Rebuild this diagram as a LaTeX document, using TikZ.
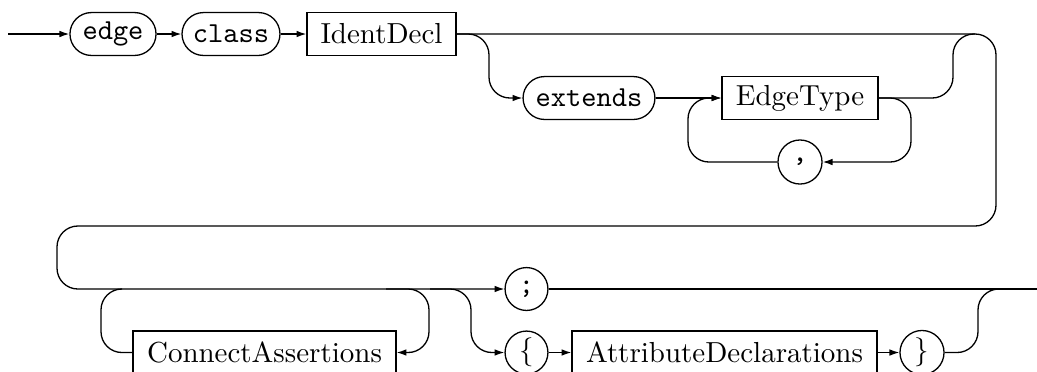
\documentclass[tikz,border=0pt]{standalone}
\usetikzlibrary{arrows.meta}
\begin{document}
\begin{tikzpicture}[x=0.345pt,y=-0.345pt,
  line width=0.45pt,
  >={Latex[length=3.4pt,width=2.3pt]},
  rc/.style={rounded corners=7.2pt},
  term/.style={draw, rectangle, rounded corners=7.4pt, minimum height=14.8pt, inner sep=0pt, font=\ttfamily},
  nterm/.style={draw, rectangle, minimum height=14.8pt, inner sep=0pt},
  tchar/.style={draw, circle, minimum size=14.8pt, inner sep=0pt},
]
\useasboundingbox (0,0) rectangle (1037,371);

% nodes
\node[term,  minimum width=29.7pt] (edge)    at (113,34)    {edge};
\node[term,  minimum width=33.8pt] (class)   at (231,34)    {class};
\node[nterm, minimum width=51.4pt] (ident)   at (381.5,34)  {IdentDecl};
\node[term,  minimum width=45.5pt] (extends) at (589,98)    {extends};
\node[nterm, minimum width=53.8pt] (etype)   at (800,98)    {EdgeType};
\node[tchar, minimum size=15.2pt, font=\ttfamily]  (comma)   at (800,162)   {,};
\node[nterm, minimum width=90.7pt] (conn)    at (264.5,352.5) {ConnectAssertions};
\node[tchar, font=\ttfamily] (semi)   at (526.5,289)   {;};
\node[tchar] (lbrace) at (526.5,352.5) {$\{$};
\node[nterm, minimum width=105.2pt] (attr)   at (724.5,352.5) {AttributeDeclarations};
\node[tchar, minimum size=15.2pt]  (rbrace)  at (922,352.5) {$\}$};

\coordinate (start) at (8,34);
\coordinate (finish) at (1045,289);

% first row
\draw[->] (start) -- (edge.west);
\draw[->] (edge.east) -- (class.west);
\draw[->] (class.east) -- (ident.west);
\draw[rc,->] (ident.east) -- (489,34) -- (489,98) -- (extends.west);
\draw[->] (extends.east) -- (etype.west);
\draw[rc,->] (etype.east) -- (911,98) -- (911,162) -- (comma.east);
\draw[rc,->] (comma.west) -- (688,162) -- (688,98) -- (etype.west);
\draw[rc] (etype.east) -- (953,98) -- (953,34) -- (975,34);

% main line wrapping to second row
\draw[rc,->] (ident.east) -- (996,34) -- (996,226) -- (57,226) -- (57,289) -- (semi.west);

% ConnectAssertions loop
\draw[rc,->] (386,289) -- (429,289) -- (429,352.5) -- (conn.east);
\draw[rc] (conn.west) -- (101,352.5) -- (101,289) -- (122,289);

% brace branch
\draw[rc,->] (430,289) -- (471,289) -- (471,352.5) -- (lbrace.west);
\draw[->] (lbrace.east) -- (attr.west);
\draw[->] (attr.east) -- (rbrace.west);
\draw[rc] (rbrace.east) -- (978,352.5) -- (978,289) -- (1020,289);

\draw (semi.east) -- (finish);
\end{tikzpicture}
\end{document}
